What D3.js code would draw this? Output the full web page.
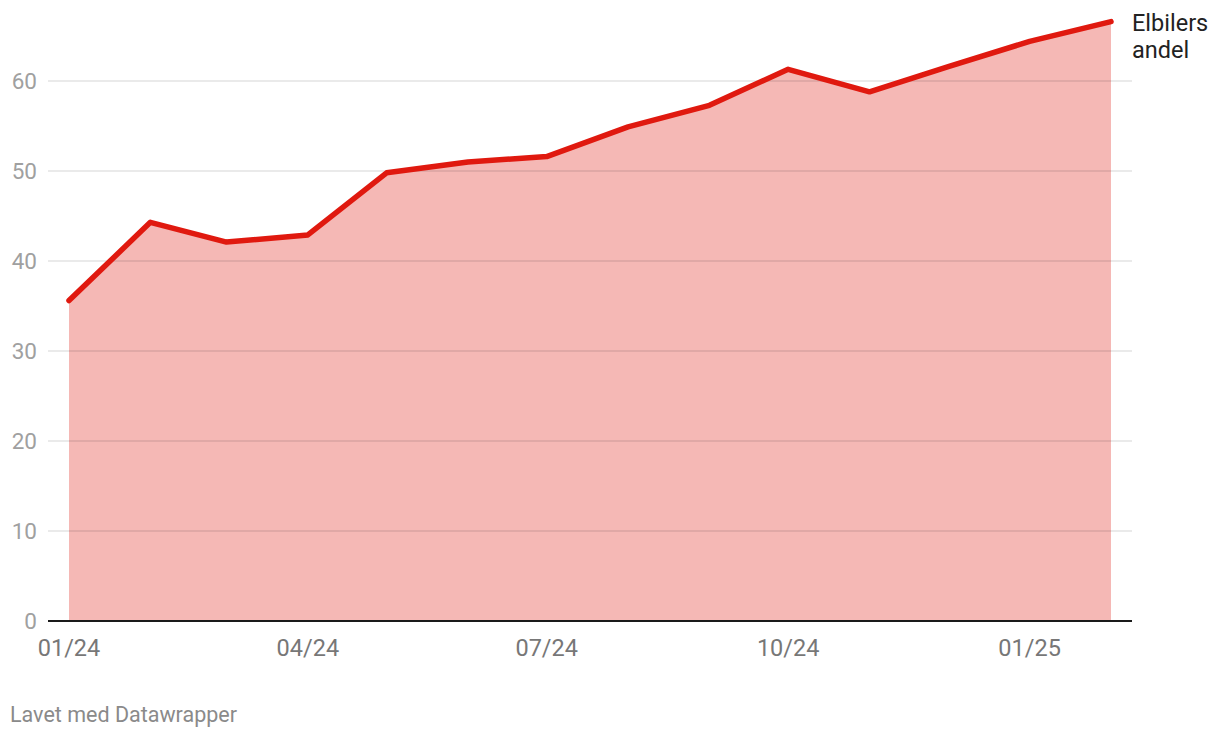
<!DOCTYPE html>
<html><head><meta charset="utf-8">
<script src="https://cdn.jsdelivr.net/npm/d3@7"></script>
<style>
body{margin:0;background:#fff;font-family:Roboto,"Noto Sans",sans-serif;}
</style></head>
<body><svg id="c" width="1220" height="738"></svg>
<script>
const months = ["2024-01","2024-02","2024-03","2024-04","2024-05","2024-06","2024-07","2024-08","2024-09","2024-10","2024-11","2024-12","2025-01","2025-02"];
const evShare = [35.6,44.3,42.1,42.9,49.8,51.0,51.6,54.9,57.3,61.3,58.8,61.6,64.4,66.6];
const yTicks = [0,10,20,30,40,50,60];
const xTickLabels = ["01/24","04/24","07/24","10/24","01/25"];
const xTickDates = ["2024-01","2024-04","2024-07","2024-10","2025-01"];
const seriesLabel = ["Elbilers","andel"];
const credit = "Lavet med Datawrapper";

const parse = d3.timeParse("%Y-%m");
const data = months.map((m,i)=>({d:parse(m), v:evShare[i]}));
const svg = d3.select("#c");
const x = d3.scaleTime().domain([parse("2024-01"), parse("2025-02")]).range([69,1111]);
const y = d3.scaleLinear().domain([0,60]).range([621,81]);
const gx0 = 48, gx1 = 1132;

// area
svg.append("path").datum(data)
  .attr("d", d3.area().x(d=>x(d.d)).y0(y(0)).y1(d=>y(d.v)))
  .attr("fill","#e0190f").attr("fill-opacity",0.31);

// gridlines
const yAxis = svg.append("g");
yTicks.filter(t=>t>0).forEach(t=>{
  yAxis.append("line").attr("x1",gx0).attr("x2",gx1).attr("y1",y(t)).attr("y2",y(t))
    .attr("stroke","#000").attr("stroke-opacity",0.11).attr("stroke-width",1.3);
});
yTicks.forEach(t=>{
  yAxis.append("text").attr("x",37).attr("y",y(t)).attr("dy","0.35em")
    .attr("text-anchor","end").attr("fill","#a0a0a0").attr("font-size",22.5).text(t);
});

// baseline
svg.append("line").attr("x1",gx0).attr("x2",gx1).attr("y1",y(0)).attr("y2",y(0))
  .attr("stroke","#1a1a1a").attr("stroke-width",2);

// x labels
xTickDates.forEach((m,i)=>{
  svg.append("text").attr("x",x(parse(m))).attr("y",656).attr("text-anchor","middle")
    .attr("fill","#777").attr("font-size",23.5).text(xTickLabels[i]);
});

// line
svg.append("path").datum(data)
  .attr("d", d3.line().x(d=>x(d.d)).y(d=>y(d.v)))
  .attr("fill","none").attr("stroke","#e0190f").attr("stroke-width",5.5)
  .attr("stroke-linejoin","round").attr("stroke-linecap","round");

// series label
const last = data[data.length-1];
const lbl = svg.append("text").attr("x",1132).attr("y",y(last.v)+9)
  .attr("fill","#222").attr("font-size",23.5);
seriesLabel.forEach((s,i)=>lbl.append("tspan").attr("x",1132).attr("dy",i?27:0).text(s));

// credit
svg.append("text").attr("x",10).attr("y",722).attr("fill","#8a8a8a").attr("font-size",21.5).text(credit);
</script></body></html>
